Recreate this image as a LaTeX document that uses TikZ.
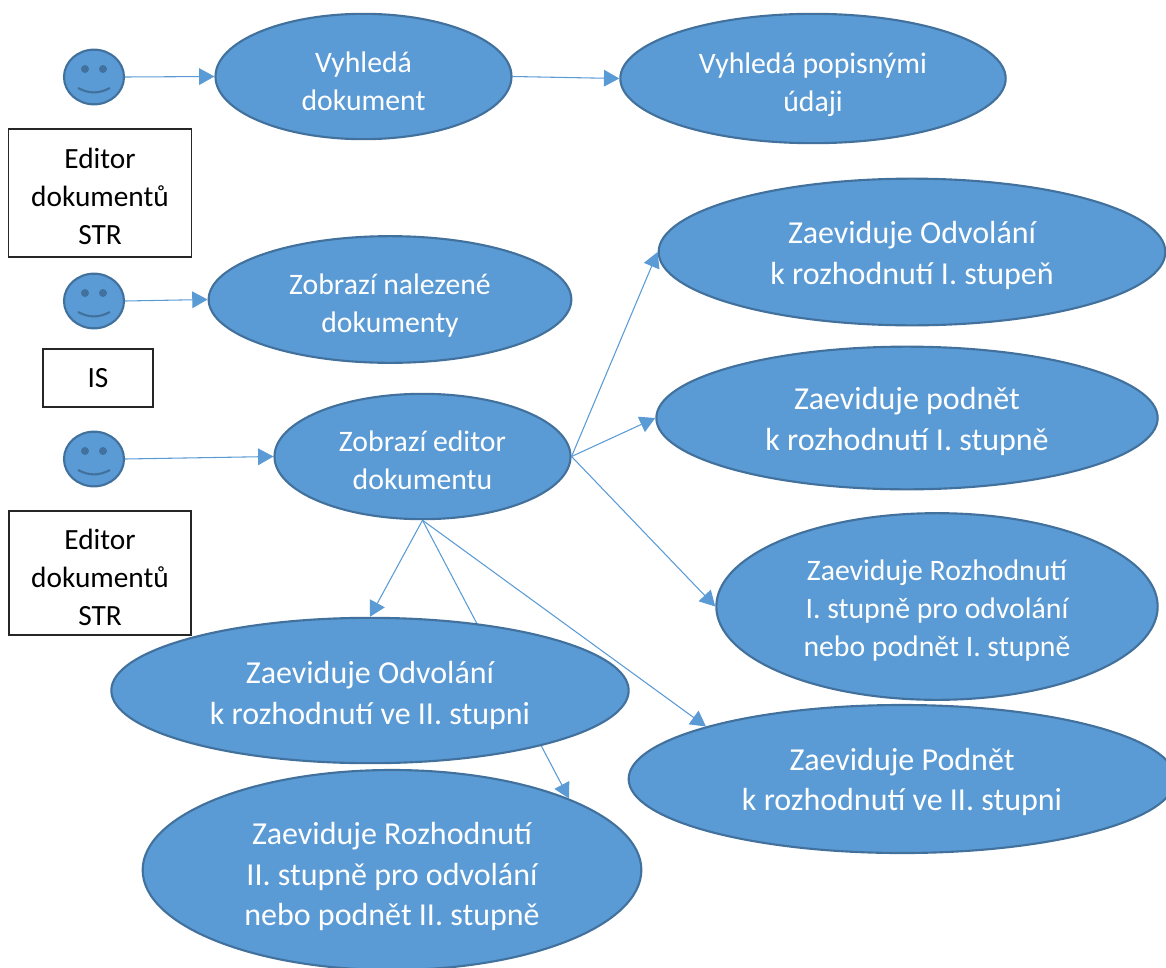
\documentclass[tikz,border=0pt]{standalone}
\usepackage{fontspec}
\setmainfont{Carlito}
\usetikzlibrary{shapes.geometric, arrows.meta}

\definecolor{blobfill}{HTML}{5B9BD5}
\definecolor{blobline}{HTML}{41719C}

\newcommand{\dropline}[1]{\rule{0pt}{#1}}

\tikzset{
  usecase/.style={ellipse, draw=blobline, fill=blobfill, line width=1.6pt, inner sep=0pt,
                  text=white, align=center},
  small/.style={font=\fontsize{22.3}{28.5}\selectfont},
  big/.style={font=\fontsize{24}{30.5}\selectfont},
  actor/.style={rectangle, draw=black!85, line width=0.8pt, fill=white, align=center,
                font=\fontsize{22}{28.5}\selectfont},
  face/.style={ellipse, draw=blobline, fill=blobfill, line width=1.6pt, inner sep=0pt,
               minimum width=45pt, minimum height=41pt},
  eye/.style={circle, fill=blobline, inner sep=0pt, minimum size=6pt},
  smile/.style={draw=blobline, line width=1.6pt},
  link/.style={-{Triangle[length=11.5pt,width=12.5pt]}, color=blobfill, line width=0.8pt}
}

\begin{document}
\begin{tikzpicture}[x=0.75pt,y=-0.75pt]
  \clip (0,0) rectangle (1166,967);

  % actors
  \node[face] (f_0) at (94,77)  {};
  \node[face] (f_1) at (94,301) {};
  \node[face] (f_2) at (94,459) {};
  \foreach \f in {f_0,f_1,f_2} {
    \node[eye] (eye_l) at ([shift={(-9,-8)}]\f.center) {};
    \node[eye] (eye_r) at ([shift={(9,-8)}]\f.center)  {};
    \draw[smile] ([shift={(-16,11)}]\f.center) to[bend right=28] ([shift={(16,11)}]\f.center);
  }

  \node[actor, minimum width=137pt, minimum height=96pt] (b_0) at (100,193) {\dropline{20.5pt}Editor\\dokumentů\\STR};
  \node[actor, minimum width=82.5pt, minimum height=43.5pt] (b_1) at (98,378) {IS};
  \node[actor, minimum width=136.5pt, minimum height=93pt] (b_2) at (100,573) {\dropline{22pt}Editor\\dokumentů\\STR};

  % use cases
  \node[usecase, small, minimum width=222pt, minimum height=94pt] (e_1) at (363.5,76.5) {\dropline{23pt}Vyhledá\\dokument};
  \node[usecase, small, minimum width=289pt, minimum height=97pt] (e_2) at (813,78.5) {\dropline{25.3pt}Vyhledá popisnými\\údaji};
  \node[usecase, small, minimum width=272pt, minimum height=95pt] (e_3) at (390,299.5) {\dropline{25.3pt}Zobrazí nalezené\\dokumenty};
  \node[usecase, small, minimum width=222pt, minimum height=94pt] (e_4) at (422.5,456.5) {\dropline{20.8pt}Zobrazí editor\\dokumentu};
  \node[usecase, big, minimum width=380pt, minimum height=110pt] (e_5) at (912,252) {\dropline{22pt}Zaeviduje Odvolání\\k rozhodnutí I. stupeň};
  \node[usecase, big, minimum width=376pt, minimum height=107pt] (e_6) at (907,418) {\dropline{22pt}Zaeviduje podnět\\k rozhodnutí I. stupně};
  \node[usecase, small, minimum width=331pt, minimum height=140pt] (e_7) at (937,606.5) {\dropline{22.3pt}Zaeviduje Rozhodnutí\\I. stupně pro odvolání\\nebo podnět I. stupně};
  \node[usecase, big, minimum width=410pt, minimum height=111pt] (e_8) at (902,779) {\dropline{21.3pt}Zaeviduje Podnět\\k rozhodnutí ve II. stupni};
  \node[usecase, big, minimum width=374pt, minimum height=150pt] (e_10) at (392,870) {\dropline{26.5pt}Zaeviduje Rozhodnutí\\II. stupně pro odvolání\\nebo podnět II. stupně};

  % this one runs behind e_9
  \path[link] (e_4.south) edge (e_10.22);

  \node[usecase, big, minimum width=388pt, minimum height=109pt] (e_9) at (370,690.5) {\dropline{24.3pt}Zaeviduje Odvolání\\k rozhodnutí ve II. stupni};

  \path[link]
    (f_0.east) edge (e_1.west)
    (f_1.east) edge (e_3.west)
    (f_2.east) edge (e_4.west)
    (e_1.east) edge (e_2.west)
    (e_4.east) edge (e_5.west)
               edge (e_6.west)
               edge (e_7.west)
    (e_4.south) edge (e_9.north)
                edge (e_8.165);
\end{tikzpicture}
\end{document}
